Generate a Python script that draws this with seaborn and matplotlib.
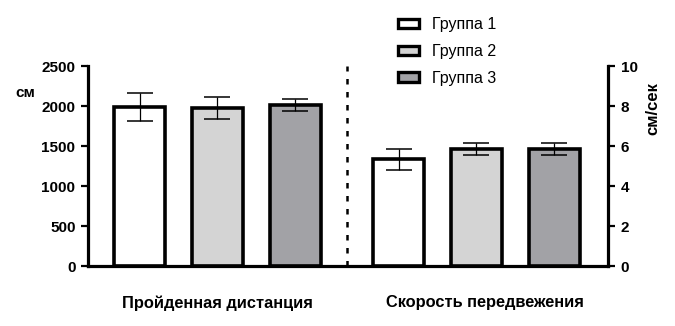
import matplotlib
matplotlib.use("Agg")
import matplotlib.pyplot as plt
import matplotlib.transforms as mtransforms
import seaborn as sns
import pandas as pd
from matplotlib.patches import Patch

# ---- data ----
measures = ["Пройденная дистанция", "Скорость передвежения"]
groups = ["Группа 1", "Группа 2", "Группа 3"]
distance_mean = [1990, 1975, 2015]
distance_sd = [175, 140, 75]
speed_mean = [5.33, 5.85, 5.85]
speed_sd = [0.53, 0.30, 0.30]
left_ticks = [0, 500, 1000, 1500, 2000, 2500]
right_ticks = [0, 2, 4, 6, 8, 10]
colors = ["#ffffff", "#d4d4d4", "#a2a2a6"]

sns.set_theme(style="white")
plt.rcParams["font.family"] = ["Liberation Sans", "DejaVu Sans"]
plt.rcParams["text.color"] = "black"
plt.rcParams["xtick.color"] = "black"
plt.rcParams["ytick.color"] = "black"

df_left = pd.DataFrame({"measure": measures[0], "group": groups, "value": distance_mean})
df_right = pd.DataFrame({"measure": measures[1], "group": groups, "value": speed_mean})
palette = dict(zip(groups, colors))

fig = plt.figure(figsize=(6.75, 3.26), dpi=100)
ax = fig.add_axes([88 / 675, 1 - 266 / 326, (608 - 88) / 675, 200 / 326])
ax2 = ax.twinx()

bar_kw = dict(x="measure", y="value", hue="group", order=measures, hue_order=groups,
              palette=palette, errorbar=None, width=0.9, gap=0.345, legend=False,
              edgecolor="black", linewidth=2.6, saturation=1)
sns.barplot(data=df_left, ax=ax, **bar_kw)
sns.barplot(data=df_right, ax=ax2, **bar_kw)


def add_err(a, means, sds):
    bars = sorted(a.patches, key=lambda p: p.get_x())
    xs = [p.get_x() + p.get_width() / 2 for p in bars]
    a.errorbar(xs, means, yerr=sds, fmt="none", ecolor="black", elinewidth=0.9,
               capsize=9.5, capthick=1.1, zorder=5)


add_err(ax, distance_mean, distance_sd)
add_err(ax2, speed_mean, speed_sd)

for a in (ax, ax2):
    a.set_xlim(-0.5, 1.508)
    a.set_xlabel("")
    a.set_ylabel("")
    for s in a.spines.values():
        s.set_linewidth(2.3)
        s.set_color("black")
    a.spines["top"].set_visible(False)

ax.set_ylim(0, 2500)
ax.set_yticks(left_ticks)
ax2.set_ylim(0, 10)
ax2.set_yticks(right_ticks)
ax.spines["right"].set_visible(False)
ax2.spines["left"].set_visible(False)
ax2.spines["bottom"].set_visible(False)

ax.tick_params(axis="y", which="both", left=True, length=5, width=1.6, pad=4,
               labelsize=11, direction="out", colors="black")
ax2.tick_params(axis="y", which="both", right=True, length=5, width=1.6, pad=4,
                labelsize=11, direction="out", colors="black")
ax.tick_params(axis="x", length=0, pad=21, labelsize=11.8, colors="black")
for lab in ax.get_yticklabels() + ax2.get_yticklabels() + ax.get_xticklabels():
    lab.set_fontweight("bold")
ax2.tick_params(axis="x", length=0)

# the right category label sits slightly right of its bar group in the reference
xlabs = ax.get_xticklabels()
xlabs[1].set_transform(xlabs[1].get_transform() +
                       mtransforms.ScaledTranslation(8 / 100, 0, fig.dpi_scale_trans))

ax.axvline(0.5, ymin=0, ymax=1, color="black", lw=1.8, ls=(0, (2.2, 3.0)))

fig.text(25 / 675, 1 - 93 / 326, "см", fontsize=11, fontweight="bold", ha="center", va="center")
fig.text(653 / 675, 1 - 109 / 326, "см/сек", fontsize=12, fontweight="bold", rotation=90,
         ha="center", va="center")

handles = [Patch(facecolor=c, edgecolor="black", linewidth=2.4) for c in colors]
fig.legend(handles, groups, loc="upper left", bbox_to_anchor=(398 / 675, 1 - 17 / 326),
           frameon=False, fontsize=11.5, handlelength=1.3, handleheight=0.5,
           handletextpad=0.8, labelspacing=0.74, borderpad=0, borderaxespad=0)

fig.savefig("out.png", dpi=100)
